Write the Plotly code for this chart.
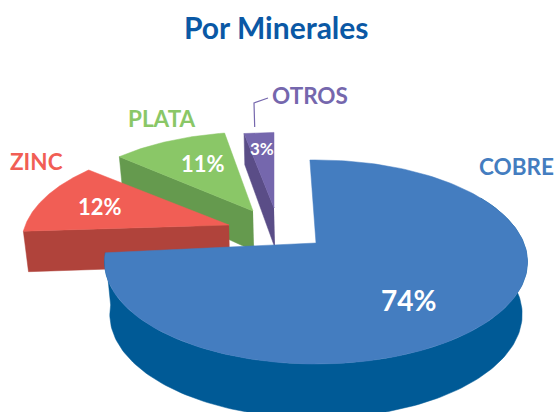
import numpy as np
import plotly.graph_objects as go

categories = ["COBRE", "ZINC", "PLATA", "OTROS"]
values = [74, 12, 11, 3]

top_colors = ["#447DC0", "#F15E55", "#8AC767", "#7567AD"]
side_colors = ["#005A96", "#B0433B", "#659A4E", "#5A4D87"]
apex = [(316, 243), (229, 225), (253, 211), (274, 208)]
scale = [1.0, 0.98, 0.95, 0.91]
shift = [0.0, 2.0, 3.0, 2.0]
depth = [52.0, 40.0, 40.0, 40.0]
taper = [0.04, 0.225, 0.225, 0.225]
label_pos = [(516, 166), (36, 161), (162, 118), (310, 95)]
pct_pos = [(408, 300), (100, 206), (203, 163), (262, 148)]
label_size = [22.5, 22.5, 22.5, 22.5]
pct_size = [28, 22, 22, 17]

A, B, K = 207.8, 98.5, 0.186
START = -2.0


def project(theta):
    t = np.radians(theta)
    u, v = np.sin(t), np.cos(t)
    w = 1 + K * v
    return A * u / w, -B * v / w, v


def edge(i, theta):
    dx, dy, v = project(theta)
    ax, ay = apex[i]
    s = scale[i]
    top = (ax + s * dx, ay + s * dy)
    bot = (ax + s * dx * 0.975, ay + s * dy + depth[i] * (1 - taper[i] * v))
    return top, bot


def wedge_angles():
    out = []
    a = START
    total = sum(values)
    for val in values:
        b = a + 360 * val / total
        out.append((a, b))
        a = b
    return out


fig = go.Figure()


def poly(xs, ys, color):
    fig.add_trace(go.Scatter(x=list(xs), y=list(ys), mode="lines", fill="toself",
                             fillcolor=color, line=dict(color=color, width=0.5),
                             hoverinfo="skip", showlegend=False))


angles = wedge_angles()
for i in [3, 2, 1, 0]:
    a, b = angles[i]
    a, b = a + shift[i], b + shift[i]
    ax, ay = apex[i]
    bot_apex = (ax + 1, ay + depth[i])
    if i == 0:
        th = np.linspace(60, b, 160)
        pts = [edge(i, t) for t in th]
        xs = [p[0][0] for p in pts] + [p[1][0] for p in pts[::-1]]
        ys = [p[0][1] for p in pts] + [p[1][1] for p in pts[::-1]]
        poly(xs, ys, side_colors[i])
    else:
        # the cut face along the slice's first radius
        start_t, start_b = edge(i, a)
        poly([ax, start_t[0], start_b[0], bot_apex[0]],
             [ay, start_t[1], start_b[1], bot_apex[1]], side_colors[i])
    th = np.linspace(a, b, 160)
    arc = [edge(i, t)[0] for t in th]
    poly([ax] + [p[0] for p in arc] + [ax], [ay] + [p[1] for p in arc] + [ay], top_colors[i])

FONT = "Lato"
fig.add_trace(go.Scatter(x=[268, 254, 254.7], y=[98, 103, 127], mode="lines",
                         line=dict(color="#7567AD", width=1.2), hoverinfo="skip", showlegend=False))

anns = [dict(x=276, y=27, text="<b>Por Minerales</b>", font=dict(family=FONT, size=30, color="#0A58A5"))]
for i, name in enumerate(categories):
    anns.append(dict(x=label_pos[i][0], y=label_pos[i][1], text=f"<b>{name}</b>",
                     font=dict(family=FONT, size=label_size[i], color=top_colors[i])))
    anns.append(dict(x=pct_pos[i][0], y=pct_pos[i][1], text=f"<b>{values[i]}%</b>",
                     font=dict(family=FONT, size=pct_size[i], color="white")))
for an in anns:
    an.update(xref="x", yref="y", showarrow=False, xanchor="center", yanchor="middle")

fig.update_layout(
    width=555, height=412, margin=dict(l=0, r=0, t=0, b=0),
    paper_bgcolor="white", plot_bgcolor="white", annotations=anns,
    xaxis=dict(range=[0, 555], visible=False, fixedrange=True),
    yaxis=dict(range=[412, 0], visible=False, fixedrange=True),
)
fig.write_html("out.html", config=dict(displayModeBar=False),
               post_script="document.body.style.margin='0';document.body.style.overflow='hidden';")
